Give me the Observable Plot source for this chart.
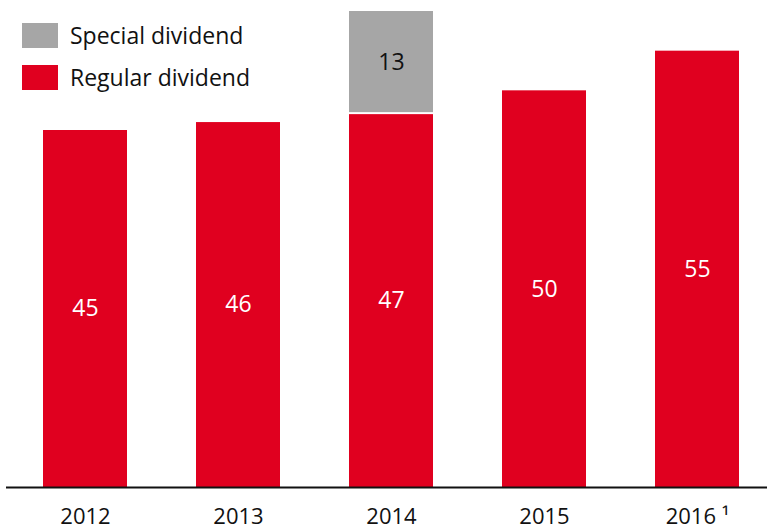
<!DOCTYPE html>
<html>
<head>
<meta charset="utf-8">
<script src="https://cdn.jsdelivr.net/npm/d3@7"></script>
<script src="https://cdn.jsdelivr.net/npm/@observablehq/plot@0.6"></script>
<style>
  html, body { margin: 0; padding: 0; background: #fff; }
  #wrap { position: relative; width: 767px; height: 529px; font-family: "Open Sans", sans-serif; }
  #legend { position: absolute; left: 22px; top: 22px; font-size: 23px; color: #111; }
  .item { display: flex; align-items: center; height: 26px; margin-bottom: 16px; }
  .sw { width: 36px; height: 25px; margin-right: 12px; }
</style>
</head>
<body>
<div id="wrap"><div id="legend"></div></div>
<script>
const years = ["2012", "2013", "2014", "2015", "2016"];
const regular = [45, 46, 47, 50, 55];
const specialYears = ["2014"];
const specialValues = [13];
const tickLabels = ["2012", "2013", "2014", "2015", "2016 \u00b9"];
const legendLabels = ["Special dividend", "Regular dividend"];
const colors = {regular: "#e0001f", special: "#a6a6a6"};

const regRows = years.map((y, i) => ({year: y, value: regular[i]}));
const specRows = specialYears.map((y, i) => {
  const base = regular[years.indexOf(y)];
  return {year: y, base, top: base + specialValues[i], value: specialValues[i]};
});

const chart = Plot.plot({
  width: 767,
  height: 529,
  marginLeft: 6,
  marginRight: 0,
  marginTop: 11,
  marginBottom: 42,
  style: {fontFamily: "'Open Sans', sans-serif", fontSize: "22px", color: "#111", background: "#fff"},
  x: {domain: years, range: [7, 775], paddingInner: 0.452, paddingOuter: 0.228, label: null},
  y: {domain: [0, 60], axis: null},
  marks: [
    Plot.barY(regRows, {x: "year", y: "value", fill: colors.regular}),
    Plot.barY(specRows, {x: "year", y1: "base", y2: "top", fill: colors.special, insetBottom: 2}),
    Plot.text(regRows, {x: "year", y: d => d.value / 2, text: d => String(d.value), fill: "white", fontSize: 23}),
    Plot.text(specRows, {x: "year", y: d => (d.base + d.top) / 2, text: d => String(d.value), fill: "#111", fontSize: 23}),
    Plot.ruleY([0], {stroke: "#111", strokeWidth: 2}),
    Plot.axisX({tickSize: 0, tickPadding: 21, fontSize: 22, fill: "#111",
      tickFormat: d => tickLabels[years.indexOf(d)], label: null})
  ]
});
document.getElementById("wrap").prepend(chart);

const leg = document.getElementById("legend");
[[legendLabels[0], colors.special], [legendLabels[1], colors.regular]].forEach(([t, c]) => {
  const it = document.createElement("div");
  it.className = "item";
  const sw = document.createElement("div");
  sw.className = "sw";
  sw.style.background = c;
  const tx = document.createElement("span");
  tx.textContent = t;
  it.appendChild(sw);
  it.appendChild(tx);
  leg.appendChild(it);
});
</script>
</body>
</html>
